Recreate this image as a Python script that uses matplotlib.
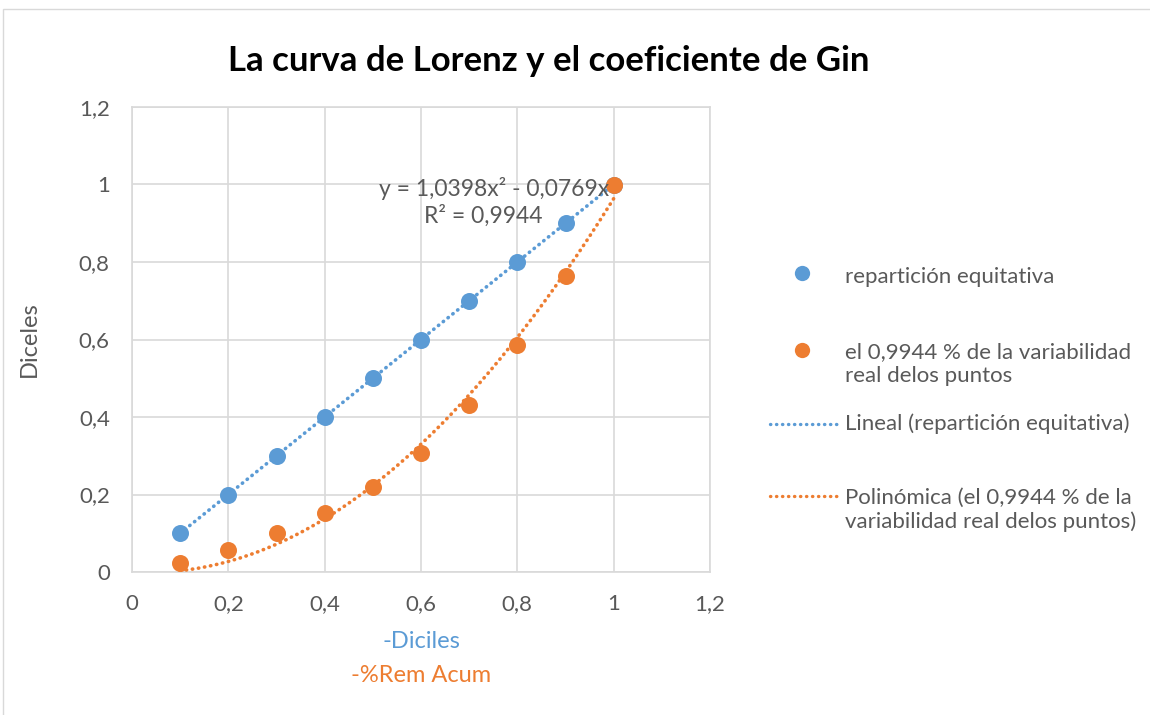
import numpy as np
import matplotlib
matplotlib.use("Agg")
import matplotlib.pyplot as plt
from matplotlib.ticker import FuncFormatter, MultipleLocator
from matplotlib.lines import Line2D
from matplotlib.patches import Rectangle

plt.rcParams['font.family'] = ['Lato', 'DejaVu Sans']

# data
deciles = [0.1, 0.2, 0.3, 0.4, 0.5, 0.6, 0.7, 0.8, 0.9, 1.0]
equitativa = [0.1, 0.2, 0.3, 0.4, 0.5, 0.6, 0.7, 0.8, 0.9, 1.0]
rem_acum = [0.023, 0.057, 0.100, 0.152, 0.219, 0.307, 0.431, 0.586, 0.764, 1.0]

label_eq = "repartición equitativa"
label_rem = "el 0,9944 % de la variabilidad\nreal delos puntos"
label_lin = "Lineal (repartición equitativa)"
label_pol = "Polinómica (el 0,9944 % de la\nvariabilidad real delos puntos)"
eq_line1 = "y = 1,0398x² - 0,0769x"
eq_line2 = "R² = 0,9944"

BLUE = "#5b9bd5"
ORANGE = "#ed7d31"
GREY = "#595959"
GRID = "#d9d9d9"

x = np.array(deciles)
y_eq = np.array(equitativa)
y_rem = np.array(rem_acum)

# trend lines fitted from the points (linear, and quadratic through origin like Excel)
lin = np.polyfit(x, y_eq, 1)
A = np.column_stack([x ** 2, x])
quad, *_ = np.linalg.lstsq(A, y_rem, rcond=None)
xs = np.linspace(x.min(), x.max(), 200)

fig = plt.figure(figsize=(11.5, 7.15), dpi=100)
fig.patches.append(Rectangle((3 / 1150, -0.01), 1.0, (715 - 9) / 715 + 0.01,
                             transform=fig.transFigure, fill=False,
                             edgecolor=GRID, linewidth=1.0))
ax = fig.add_axes([132 / 1150, 143 / 715, 578 / 1150, 465 / 715])

ax.plot(xs, np.polyval(lin, xs), color=BLUE, lw=2.6, linestyle=(0, (0.1, 1.6)),
        dash_capstyle='round', zorder=3)
ax.plot(xs, quad[0] * xs ** 2 + quad[1] * xs, color=ORANGE, lw=2.6,
        linestyle=(0, (0.1, 1.6)), dash_capstyle='round', zorder=3)
ax.scatter(x, y_eq, s=150, color=BLUE, zorder=4, linewidths=0)
ax.scatter(x, y_rem, s=150, color=ORANGE, zorder=4, linewidths=0)

ax.set_xlim(0, 1.2)
ax.set_ylim(0, 1.2)
ax.xaxis.set_major_locator(MultipleLocator(0.2))
ax.yaxis.set_major_locator(MultipleLocator(0.2))
fmt = FuncFormatter(lambda v, p: f"{round(v, 1):g}".replace('.', ','))
ax.xaxis.set_major_formatter(fmt)
ax.yaxis.set_major_formatter(fmt)
ax.tick_params(length=0, labelsize=16, labelcolor=GREY, pad=16)
ax.grid(True, color=GRID, lw=1.2)
ax.set_axisbelow(True)
for s in ax.spines.values():
    s.set_color(GRID)
    s.set_linewidth(1.2)

ax.set_ylabel("Diceles", fontsize=17, color=GREY)
ax.yaxis.set_label_coords((40 - 132) / 578, 0.5)
fig.text(421 / 1150, 1 - 642 / 715, "-Diciles", color=BLUE, fontsize=17,
         ha='center', va='center')
fig.text(421 / 1150, 1 - 675 / 715, "-%Rem Acum", color=ORANGE, fontsize=17,
         ha='center', va='center')

ax.text(0.752, 0.99, eq_line1, fontsize=16.5, color=GREY, ha='center', va='center',
        zorder=5)
ax.text(0.730, 0.92, eq_line2, fontsize=16.5, color=GREY, ha='center', va='center',
        zorder=5)

fig.text(549 / 1150, 1 - 61 / 715, "La curva de Lorenz y el coeficiente de Gin",
         fontsize=25, fontweight='bold', color='black', ha='center', va='center')

# legend, drawn by hand to follow the Excel layout
def leg_marker(ypx, color):
    fig.add_artist(Line2D([802 / 1150], [1 - ypx / 715], marker='o', ms=11,
                          color=color, markeredgewidth=0, transform=fig.transFigure))

def leg_line(ypx, color):
    fig.add_artist(Line2D([770 / 1150, 838 / 1150], [1 - ypx / 715] * 2, color=color,
                          lw=2.4, linestyle=(0, (0.1, 1.7)), dash_capstyle='round',
                          transform=fig.transFigure))

def leg_text(xpx, ypx, s):
    fig.text(xpx / 1150, 1 - ypx / 715, s, fontsize=16, color=GREY, ha='left',
             va='center', linespacing=1.25)

leg_marker(273, BLUE)
leg_text(845, 277, label_eq)
leg_marker(350, ORANGE)
leg_text(845, 364, label_rem)
leg_line(424, BLUE)
leg_text(845, 424, label_lin)
leg_line(496, ORANGE)
leg_text(845, 510, label_pol)

fig.savefig("out.png", dpi=100)
